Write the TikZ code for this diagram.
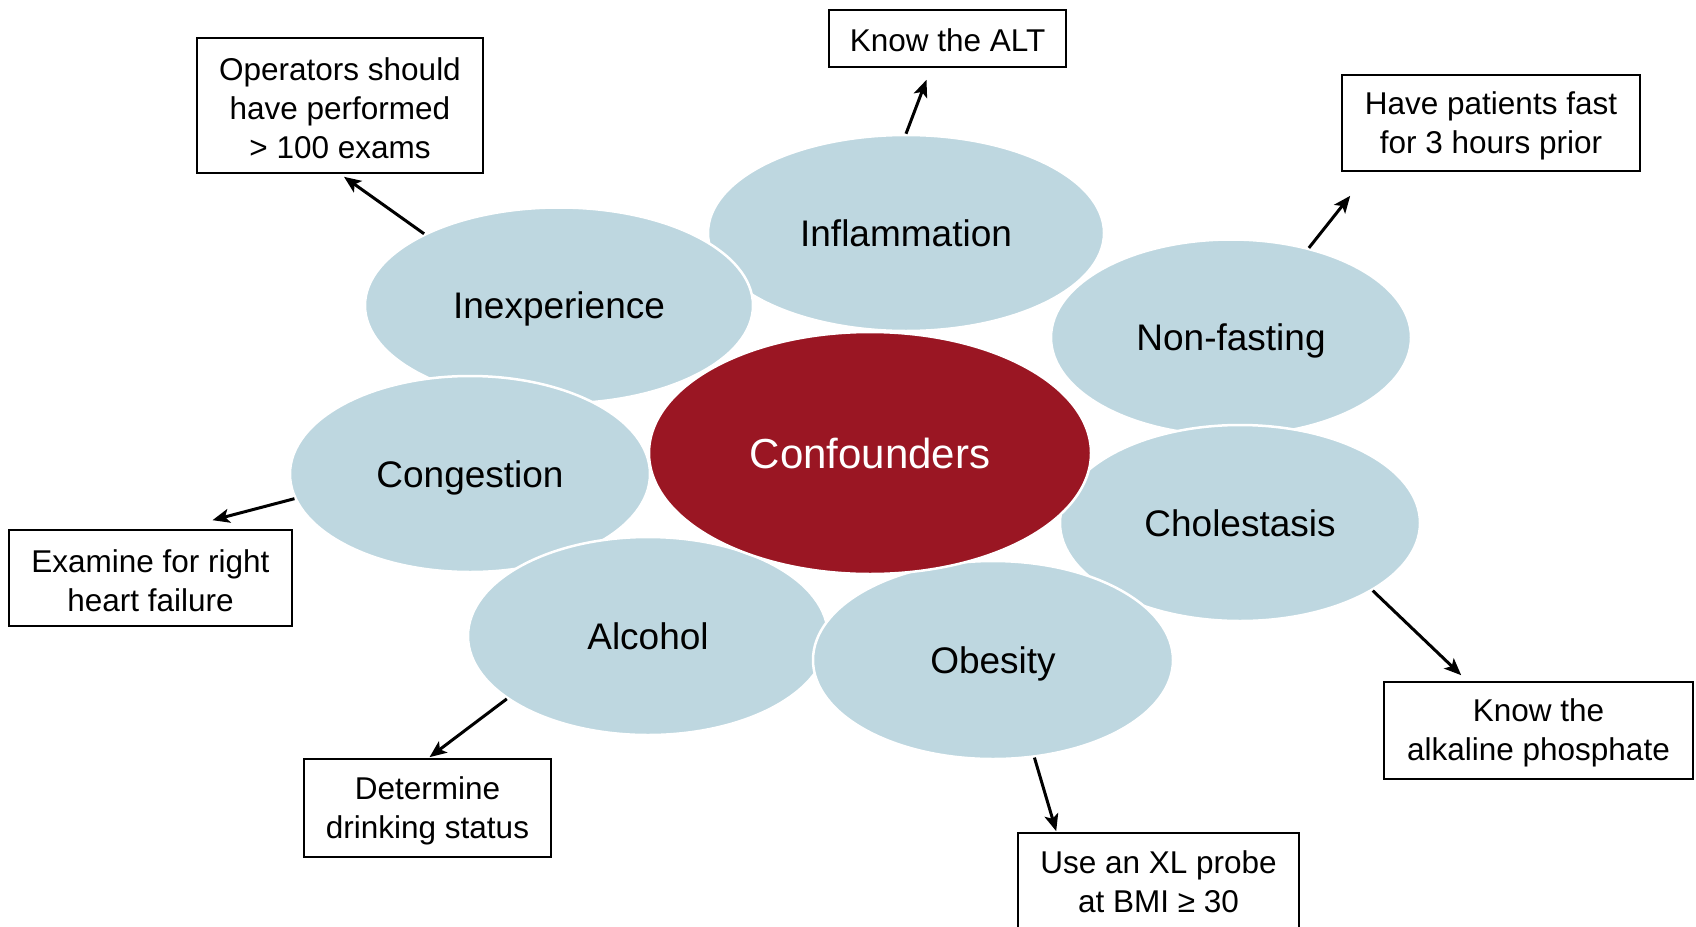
\documentclass[tikz,border=0pt]{standalone}
\usepackage{fontspec}
\setmainfont{Liberation Sans}
\usetikzlibrary{shapes.geometric,arrows.meta}
\definecolor{blob}{RGB}{190,215,224}
\definecolor{core}{RGB}{154,22,35}
\tikzset{
  blobnode/.style={ellipse, fill=blob, draw=white, line width=2.5pt, inner sep=0pt,
    text depth=0pt, font=\fontsize{37}{44}\selectfont, text=black},
  corenode/.style={ellipse, fill=core, draw=white, line width=2.5pt, inner sep=0pt,
    font=\fontsize{42}{50}\selectfont, text=white},
  tipbox/.style={draw=black, line width=1.6pt, fill=white, align=center, inner sep=0pt,
    font=\fontsize{31.5}{39}\selectfont},
  arr/.style={line width=3pt, -{Stealth[length=17pt,width=14pt,inset=4pt]}}
}
\begin{document}
\begin{tikzpicture}[x=1pt,y=-1pt]
\useasboundingbox (0,0) rectangle (1696,926);
\clip (0,0) rectangle (1696,926);
\fill[white] (0,0) rectangle (1696,926);
% ellipses
\node[blobnode, minimum width=396pt, minimum height=196pt] (infl) at (906,233) {Inflammation};
\node[blobnode, minimum width=388pt, minimum height=196pt] (inex) at (559,305.5) {Inexperience};
\node[blobnode, minimum width=360pt, minimum height=196pt] (cong) at (470,474) {Congestion};
\node[blobnode, minimum width=360pt, minimum height=196pt] (nonf) at (1231,337.5) {Non-fasting};
\node[blobnode, minimum width=360pt, minimum height=196pt] (chol) at (1240,523) {Cholestasis};
\node[blobnode, minimum width=360pt, minimum height=198pt] (alco) at (648,636) {Alcohol};
\node[blobnode, minimum width=360pt, minimum height=198pt] (obes) at (993,660) {Obesity};
\node[corenode, minimum width=442pt, minimum height=242pt] (conf) at (870,453) {Confounders};
% boxes
\node[tipbox, text height=106pt, text depth=0pt, minimum width=286pt, minimum height=135pt] (ops) at (340,105.5) {Operators should\\have performed\\> 100 exams};
\node[tipbox, text height=25pt, text depth=0pt, minimum width=237pt, minimum height=57pt] (alt) at (947.5,38.5) {Know the ALT};
\node[tipbox, text depth=1.6pt, minimum width=298pt, minimum height=96pt] (fast) at (1491,123) {Have patients fast\\for 3 hours prior};
\node[tipbox, text height=67pt, text depth=0pt, minimum width=283pt, minimum height=96pt] (exam) at (150.5,578) {Examine for right\\heart failure};
\node[tipbox, text depth=1.6pt, minimum width=247pt, minimum height=98pt] (det) at (427.5,808) {Determine\\drinking status};
\node[tipbox, minimum width=281pt, minimum height=98pt] (xl) at (1158.5,882) {Use an XL probe\\at BMI ≥ 30};
\node[tipbox, text depth=1.6pt, minimum width=309pt, minimum height=97pt] (alk) at (1538.5,730.5) {Know the\\alkaline phosphate};
% arrows
\draw[arr] (inex.152) -- ([shift={(4,3)}]ops.south);
\draw[arr] (infl.90) -- ([shift={(-21,12)}]alt.south);
\draw[arr] (nonf.49.5) -- ([shift={(9,24)}]fast.south west);
\draw[arr] (cong.188.5) -- ([shift={(62,-9)}]exam.north);
\draw[arr] (alco.204.4) -- ([shift={(2,-1)}]det.north);
\draw[arr] (obes.293.4) -- ([shift={(39,-1)}]xl.north west);
\draw[arr] (chol.333.3) -- ([shift={(78,-6)}]alk.north west);
\end{tikzpicture}
\end{document}
